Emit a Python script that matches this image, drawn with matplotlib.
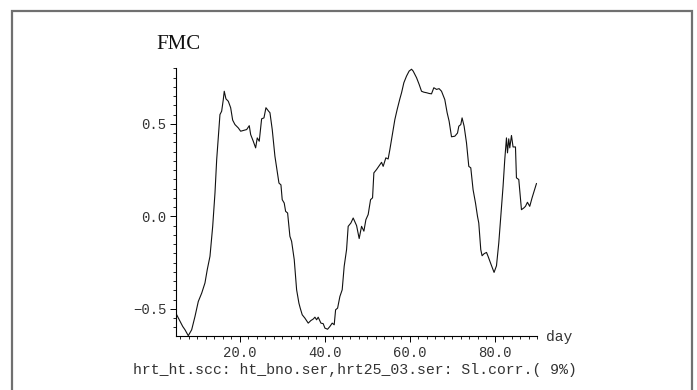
import numpy as np
import matplotlib
matplotlib.use('Agg')
import matplotlib.pyplot as plt
from matplotlib.patches import Rectangle
from matplotlib.ticker import MultipleLocator, FuncFormatter

# values
days = [5.16, 6.58, 7.12, 7.89, 8.69, 9.47, 10.25, 11.05, 11.82, 12.36,
        13.0, 13.64, 14.18, 14.58, 15.05, 15.35, 15.75, 16.13, 16.36, 16.76,
        17.31, 17.87, 18.34, 18.88, 19.66, 20.22, 21.0, 21.64, 22.25, 22.58,
        23.19, 23.75, 24.13, 24.6, 25.16, 25.71, 26.18, 26.81, 27.12, 27.66,
        28.29, 28.93, 29.24, 29.71, 30.01, 30.48, 30.81, 31.28, 31.82, 32.22,
        32.84, 33.4, 33.94, 34.25, 34.72, 35.35, 36.13, 36.76, 37.31, 37.71,
        38.11, 38.48, 39.12, 39.66, 40.06, 40.69, 41.24, 41.78, 42.25, 42.58,
        43.05, 43.59, 44.13, 44.6, 45.16, 45.54, 46.18, 46.72, 47.52, 48.13,
        48.69, 49.24, 49.71, 50.25, 50.81, 51.28, 51.59, 52.22, 52.84, 53.4,
        53.78, 54.41, 54.95, 55.35, 55.99, 56.53, 57.07, 57.71, 58.11, 58.65,
        59.28, 59.89, 60.46, 60.84, 61.64, 62.25, 62.81, 63.35, 63.99, 64.6,
        65.16, 65.71, 66.34, 66.95, 67.52, 68.29, 68.84, 69.31, 69.87, 70.65,
        71.28, 71.59, 72.06, 72.36, 72.84, 73.4, 73.94, 74.41, 74.95, 75.52,
        75.99, 76.29, 76.76, 77.07, 77.54, 78.11, 78.48, 79.12, 79.66, 79.89,
        80.46, 81.0, 81.47, 82.01, 82.41, 82.81, 83.05, 83.35, 83.59, 83.99,
        84.36, 84.93, 85.16, 85.71, 86.34, 86.88, 87.28, 87.75, 88.29, 88.84,
        89.87]
fmc = [-0.532, -0.595, -0.613, -0.645, -0.613, -0.541, -0.46, -0.415, -0.36, -0.288,
       -0.216, -0.054, 0.127, 0.307, 0.451, 0.55, 0.568, 0.63, 0.676, 0.635,
       0.622, 0.587, 0.52, 0.496, 0.478, 0.46, 0.465, 0.469, 0.49, 0.442,
       0.406, 0.37, 0.424, 0.406, 0.527, 0.532, 0.587, 0.568, 0.56, 0.469,
       0.325, 0.226, 0.18, 0.17, 0.09, 0.072, 0.027, 0.018, -0.108, -0.135,
       -0.234, -0.397, -0.469, -0.496, -0.532, -0.55, -0.577, -0.563, -0.555, -0.545,
       -0.559, -0.545, -0.577, -0.58, -0.604, -0.61, -0.595, -0.577, -0.586, -0.505,
       -0.496, -0.433, -0.397, -0.27, -0.18, -0.054, -0.036, -0.009, -0.05, -0.12,
       -0.054, -0.08, -0.018, 0.01, 0.09, 0.1, 0.235, 0.253, 0.274, 0.292,
       0.27, 0.316, 0.31, 0.36, 0.45, 0.523, 0.577, 0.635, 0.668, 0.722,
       0.758, 0.785, 0.795, 0.785, 0.749, 0.713, 0.676, 0.671, 0.668, 0.664,
       0.662, 0.695, 0.686, 0.69, 0.676, 0.631, 0.56, 0.514, 0.43, 0.433,
       0.45, 0.487, 0.496, 0.532, 0.487, 0.397, 0.27, 0.262, 0.144, 0.072,
       0.0, -0.036, -0.18, -0.213, -0.202, -0.195, -0.216, -0.256, -0.288, -0.303,
       -0.267, -0.144, 0.0, 0.162, 0.307, 0.424, 0.343, 0.419, 0.37, 0.437,
       0.375, 0.375, 0.208, 0.199, 0.036, 0.045, 0.054, 0.076, 0.054, 0.1,
       0.177]

title = 'FMC'
xlabel = 'day'
caption = 'hrt_ht.scc: ht_bno.ser,hrt25_03.ser: Sl.corr.( 9%)'

fig = plt.figure(figsize=(6.97, 3.9), dpi=100)
W, H = 697, 390

# grey outer frame
fig.patches.append(Rectangle((11.7 / W, -0.1), (691.7 - 11.7) / W, 1.1 - 10.7 / H,
                             transform=fig.transFigure, fill=False,
                             edgecolor='#707070', linewidth=1.6))

ax = fig.add_axes([176 / W, 1 - 335.7 / H, (537 - 176) / W, (335.7 - 68.3) / H])
ax.plot(days, fmc, color='#111111', linewidth=0.8)

ax.set_xlim(5, 90)
ax.set_ylim(-0.645, 0.80)
for s in ['top', 'right']:
    ax.spines[s].set_visible(False)
for s in ['left', 'bottom']:
    ax.spines[s].set_linewidth(0.8)

fmt = FuncFormatter(lambda v, pos: f'{v:.1f}'.replace('-', '\u2212'))
ax.xaxis.set_major_locator(MultipleLocator(20))
ax.xaxis.set_minor_locator(MultipleLocator(2))
ax.yaxis.set_major_locator(MultipleLocator(0.5))
ax.yaxis.set_minor_locator(MultipleLocator(0.05))
ax.xaxis.set_major_formatter(fmt)
ax.yaxis.set_major_formatter(fmt)
ax.tick_params(which='major', direction='out', length=4, width=0.7,
               labelsize=10, labelcolor='#333333')
ax.tick_params(axis='x', which='major', pad=3.5)
ax.tick_params(axis='y', which='major', pad=3.0)
ax.tick_params(which='minor', direction='out', length=2.5, width=0.6)
for lab in ax.get_xticklabels() + ax.get_yticklabels():
    lab.set_family(['Liberation Mono', 'DejaVu Sans Mono'])

fig.text(178 / W, 1 - 44.7 / H, title, family='Liberation Serif', fontsize=15,
         ha='center', va='center', color='#111111')
fig.text(546 / W, 1 - 337 / H, xlabel, family='Liberation Mono', fontsize=10.5,
         ha='left', va='center', color='#333333')
fig.text(355 / W, 1 - 370 / H, caption, family='Liberation Mono', fontsize=10.7,
         ha='center', va='center', color='#333333')

fig.savefig('out.png', dpi=100)
